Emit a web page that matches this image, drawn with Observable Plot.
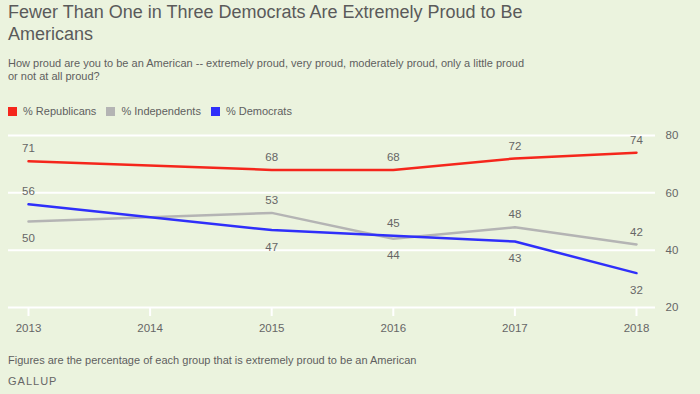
<!DOCTYPE html>
<html>
<head>
<meta charset="utf-8">
<script src="https://cdn.jsdelivr.net/npm/d3@7"></script>
<script src="https://cdn.jsdelivr.net/npm/@observablehq/plot@0.6"></script>
<style>
  html, body { margin: 0; padding: 0; }
  body { width: 700px; height: 394px; background: #ebf3de; position: relative; overflow: hidden;
         font-family: "Liberation Sans", Arial, sans-serif; color: #666; }
  .abs { position: absolute; left: 8px; white-space: nowrap; }
  #title { top: 1px; font-size: 18px; line-height: 22px; color: #5a5a5a; }
  #subtitle { top: 57px; font-size: 11px; line-height: 13px; color: #5f5f5f; }
  #legend { top: 105px; height: 12px; display: flex; align-items: center; font-size: 11px; color: #5f5f5f; }
  #legend .item { display: flex; align-items: center; margin-right: 10px; }
  #legend .sw { width: 9px; height: 9px; margin-right: 6px; }
  #chart { position: absolute; left: 0; top: 120px; }
  #caption { top: 353px; font-size: 11px; line-height: 14px; color: #5f5f5f; }
  #source { top: 374px; font-size: 11px; line-height: 14px; letter-spacing: 1px; color: #666; }
</style>
</head>
<body>
<div id="title" class="abs">Fewer Than One in Three Democrats Are Extremely Proud to Be<br>Americans</div>
<div id="subtitle" class="abs">How proud are you to be an American -- extremely proud, very proud, moderately proud, only a little proud<br>or not at all proud?</div>
<div id="legend" class="abs"></div>
<div id="chart"></div>
<div id="caption" class="abs">Figures are the percentage of each group that is extremely proud to be an American</div>
<div id="source" class="abs">GALLUP</div>
<script>
const years = [2013, 2015, 2016, 2017, 2018];
const republicans = [71, 68, 68, 72, 74];
const independents = [50, 53, 44, 48, 42];
const democrats = [56, 47, 45, 43, 32];
const seriesNames = ["% Republicans", "% Independents", "% Democrats"];
const seriesColors = ["#f5261c", "#b4b4b4", "#2f2ffa"];
const axisYears = [2013, 2014, 2015, 2016, 2017, 2018];
const yTicks = [20, 40, 60, 80];

const seriesValues = [republicans, independents, democrats];
const data = [];
seriesNames.forEach((name, si) => {
  years.forEach((yr, i) => data.push({series: name, year: yr, value: seriesValues[si][i]}));
});
// label goes below the line when it is the lowest value in that year
data.forEach(d => {
  const vals = seriesValues.map(s => s[years.indexOf(d.year)]);
  d.below = d.value === Math.min(...vals);
});

// legend
const legend = document.getElementById("legend");
seriesNames.forEach((n, i) => {
  const it = document.createElement("div");
  it.className = "item";
  const sw = document.createElement("div");
  sw.className = "sw";
  sw.style.background = seriesColors[i];
  it.appendChild(sw);
  it.appendChild(document.createTextNode(n));
  legend.appendChild(it);
});

const chart = Plot.plot({
  width: 700,
  height: 225,
  marginTop: 15,
  marginBottom: 38,
  marginLeft: 28,
  marginRight: 64,
  style: {background: "transparent", fontFamily: "'Liberation Sans', Arial, sans-serif", fontSize: "11px", color: "#666"},
  x: {type: "linear", domain: [2013, 2018]},
  y: {domain: [20, 80]},
  color: {domain: seriesNames, range: seriesColors},
  marks: [
    Plot.ruleY(yTicks, {stroke: "#ffffff", strokeWidth: 2, insetLeft: -20, insetRight: -19}),
    Plot.axisX({ticks: axisYears, tickSize: 9, tickPadding: 7, stroke: "#ffffff", strokeWidth: 2, strokeOpacity: 1,
                tickFormat: d => String(d), fill: "#666", fontSize: 11.5, label: null}),
    Plot.axisY({anchor: "right", ticks: yTicks, tickSize: 0, tickPadding: 29, fill: "#666", fontSize: 11.5, label: null}),
    Plot.line(data, {x: "year", y: "value", z: "series", stroke: "series", strokeWidth: 2.5}),
    Plot.text(data.filter(d => !d.below), {x: "year", y: "value", text: d => String(d.value), dy: -12.5, fill: "#666", fontSize: 11.5}),
    Plot.text(data.filter(d => d.below), {x: "year", y: "value", text: d => String(d.value), dy: 17, fill: "#666", fontSize: 11.5})
  ]
});
document.getElementById("chart").appendChild(chart);
</script>
</body>
</html>
